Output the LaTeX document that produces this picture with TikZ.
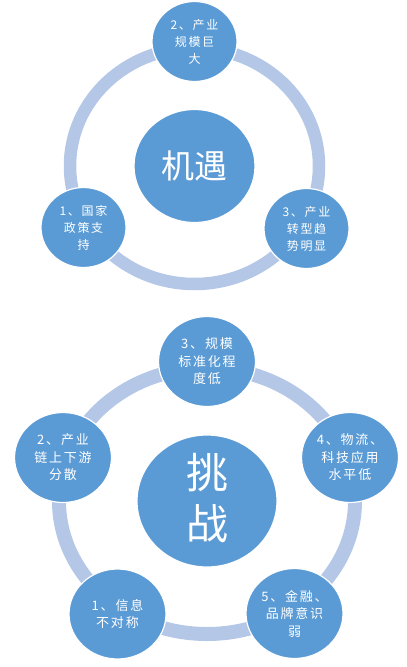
\documentclass[tikz,border=0pt]{standalone}
\usepackage{fontspec}
\newfontfamily\cjk{Noto Sans CJK SC}
\newfontfamily\cjksp[LetterSpace=14]{Noto Sans CJK SC}
\usetikzlibrary{shapes.geometric}
\definecolor{bubblue}{HTML}{5B9BD5}
\definecolor{ringblue}{HTML}{B4C7E7}
\tikzset{
  ringline/.style={draw=ringblue},
  bub/.style={ellipse, fill=bubblue, draw=white, line width=1.2pt, inner sep=0pt},
  smalltop/.style={bub, minimum width=85pt, minimum height=80pt},
  smallbot/.style={bub, minimum width=97pt, minimum height=90pt},
  txtA/.style={text=white, align=center, font=\cjksp\fontsize{12}{17}\selectfont, inner sep=0pt},
  txtB/.style={text=white, align=center, font=\cjksp\fontsize{13}{17.5}\selectfont, inner sep=0pt},
}
\begin{document}
\begin{tikzpicture}[x=1pt, y=-1pt]
\useasboundingbox (0,0) rectangle (407,667);
% ---------- top diagram ----------
\node[bub, minimum width=121pt, minimum height=113pt,
  label={[text=white, inner sep=0pt, font=\cjk\fontsize{33}{36}\selectfont]center:机遇}]
  (c1) at (194.5,166) {};
\draw[ringline, line width=12.5pt] (c1.center) ellipse [x radius=124.5pt, y radius=118pt];
\node[smalltop] (t2) at (194.5,41.5) {};
\node[smalltop] (t1) at (83.5,227.5) {};
\node[smalltop] (t3) at (306.5,228.5) {};
\node[txtA] (t2t) at (t2.center) {2、产业\\规模巨\\大};
\node[txtA] (t1t) at (t1.center) {1、国家\\政策支\\持};
\node[txtA] (t3t) at (t3.center) {3、产业\\转型趋\\势明显};
% ---------- bottom diagram ----------
\node[bub, minimum width=140pt, minimum height=132pt] (c2) at (207,501) {};
\draw[ringline, line width=14pt] (c2.center) ellipse [x radius=148pt, y radius=133pt];
\node[text=white, align=center, inner sep=0pt, font=\cjk\fontsize{42}{51}\selectfont] (c2t) at (207,498) {挑\\战};
\node[smallbot] (b3) at (207,361.5) {};
\node[smallbot] (b4) at (350,457.5) {};
\node[smallbot] (b5) at (294.5,613.5) {};
\node[smallbot] (b1) at (117.5,614) {};
\node[smallbot] (b2) at (63,457.5) {};
\node[txtB] (b3t) at (b3.center) {3、规模\\标准化程\\度低};
\node[txtB] (b4t) at (b4.center) {4、物流、\\科技应用\\水平低};
\node[txtB] (b5t) at (b5.center) {5、金融、\\品牌意识\\弱};
\node[txtB] (b1t) at (b1.center) {1、信息\\不对称};
\node[txtB] (b2t) at (b2.center) {2、产业\\链上下游\\分散};
\end{tikzpicture}
\end{document}
